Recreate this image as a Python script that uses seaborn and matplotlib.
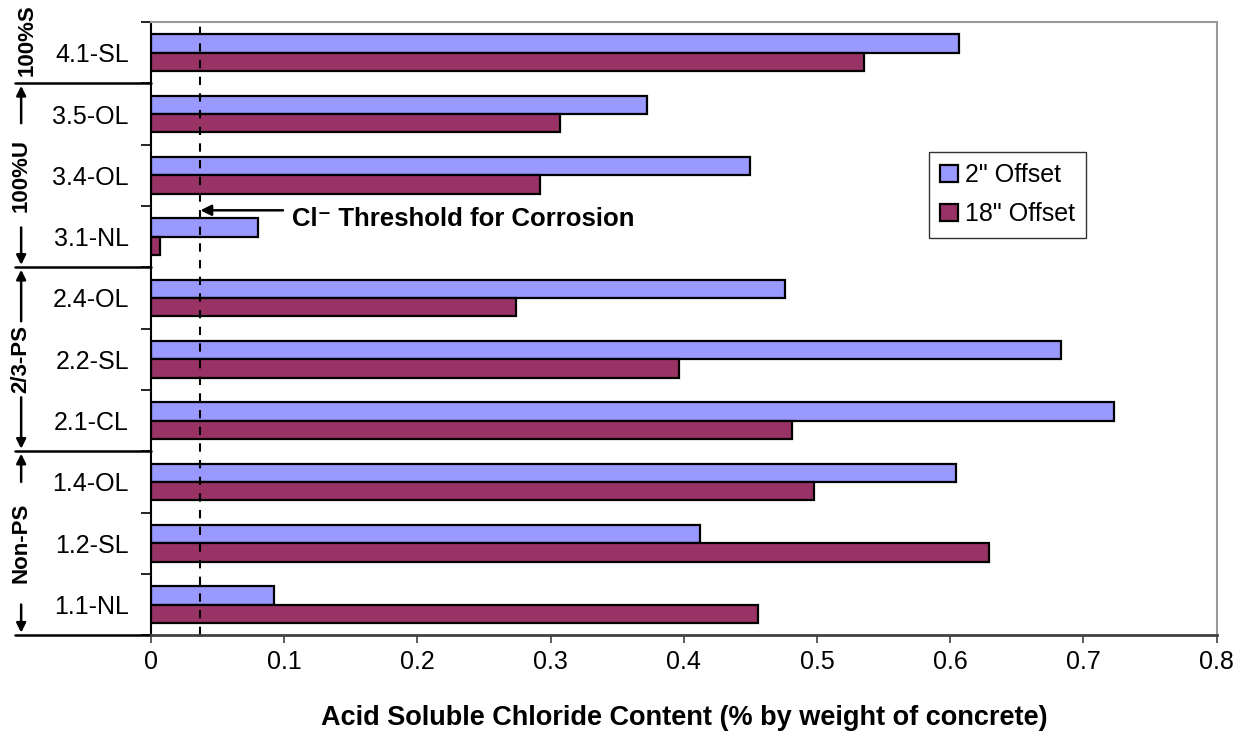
import pandas as pd
import matplotlib.pyplot as plt
import seaborn as sns

# Specimen labels, top to bottom
labels = ["4.1-SL", "3.5-OL", "3.4-OL", "3.1-NL", "2.4-OL",
          "2.2-SL", "2.1-CL", "1.4-OL", "1.2-SL", "1.1-NL"]
offset_2in = [0.607, 0.372, 0.450, 0.080, 0.476, 0.683, 0.723, 0.604, 0.412, 0.092]
offset_18in = [0.535, 0.307, 0.292, 0.007, 0.274, 0.396, 0.481, 0.498, 0.629, 0.456]
series_names = ['2" Offset', '18" Offset']
threshold = 0.037

# Specimen groups (first and last label in each)
group_names = ["100%S", "100%U", "2/3-PS", "Non-PS"]
group_first = ["4.1-SL", "3.5-OL", "2.4-OL", "1.4-OL"]
group_last = ["4.1-SL", "3.1-NL", "2.1-CL", "1.1-NL"]

df = pd.DataFrame({
    "label": labels * 2,
    "value": offset_2in + offset_18in,
    "offset": [series_names[0]] * len(labels) + [series_names[1]] * len(labels),
})

sns.set_style("white")
plt.rcParams["font.family"] = ["Liberation Sans", "DejaVu Sans"]
plt.rcParams.update({"text.color": "black", "axes.labelcolor": "black",
                     "xtick.color": "black", "ytick.color": "black"})

fig = plt.figure(figsize=(12.49, 7.36), dpi=100)
ax = fig.add_axes([0.121, 0.137, 0.853, 0.833])

sns.barplot(data=df, x="value", y="label", hue="offset", orient="h",
            palette=["#9999FF", "#993366"], saturation=1, edgecolor="black",
            linewidth=1.6, width=0.6, order=labels, ax=ax)

ax.set_xlim(0, 0.8)
ax.set_ylim(len(labels) - 0.5, -0.5)
ax.set_xticks([i / 10 for i in range(9)])
ax.set_xticklabels(["0"] + [f"{i / 10:.1f}" for i in range(1, 9)])
ax.tick_params(axis="x", direction="out", length=6, width=1.2, color="#404040",
               labelsize=18, pad=5, bottom=True)
ax.tick_params(axis="y", which="major", length=0, labelsize=18, pad=16)
ax.set_yticks([i - 0.5 for i in range(len(labels) + 1)], minor=True)
ax.tick_params(axis="y", which="minor", direction="out", length=7, width=1.2, left=True)
ax.set_ylabel("")
ax.set_xlabel("Acid Soluble Chloride Content (% by weight of concrete)",
              fontsize=19.5, fontweight="bold", labelpad=22)

for side in ["top", "right"]:
    ax.spines[side].set_color("#999999")
    ax.spines[side].set_linewidth(1.5)
ax.spines["left"].set_color("black")
ax.spines["left"].set_linewidth(1.5)
ax.spines["bottom"].set_color("#404040")
ax.spines["bottom"].set_linewidth(2)

# Threshold line and note
ax.axvline(threshold, color="black", linestyle=(0, (4, 4)), linewidth=1.5)
ax.annotate("", xy=(threshold, 2.57), xytext=(0.099, 2.57),
            arrowprops=dict(arrowstyle="-|>", color="black", lw=1.8,
                            mutation_scale=16, shrinkA=0, shrinkB=0))
ax.text(0.106, 2.72, "Cl\u207b Threshold for Corrosion", fontsize=18.5,
        fontweight="bold", va="center", ha="left")

# Legend
ax.legend(loc="upper left", bbox_to_anchor=(0.730, 0.788), borderaxespad=0,
          fontsize=18, frameon=True, fancybox=False, edgecolor="black",
          handlelength=0.7, handleheight=0.7, handletextpad=0.3,
          labelspacing=0.6, borderpad=0.45)
ax.get_legend().get_frame().set_linewidth(1.0)

# Group brackets on the left
trans = ax.get_yaxis_transform()
line_x = -0.128
arrow_x = -0.122
arrow_gap = [0, 0.85, 0.62, 1.0]
for name, first, last, gap in zip(group_names, group_first, group_last, arrow_gap):
    top = labels.index(first) - 0.5
    bottom = labels.index(last) + 0.5
    center = (top + bottom) / 2
    ax.plot([line_x, 0], [bottom, bottom], transform=trans, color="black",
            lw=1.8, clip_on=False)
    if gap > 0:
        ax.text(arrow_x, center, name, transform=trans, rotation=90, fontsize=16,
                fontweight="bold", ha="center", va="center")
        ax.annotate("", xy=(arrow_x, top + 0.04), xycoords=trans,
                    xytext=(arrow_x, center - gap), textcoords=trans,
                    arrowprops=dict(arrowstyle="-|>", color="black", lw=1.8,
                                    mutation_scale=14, shrinkA=0, shrinkB=0))
        ax.annotate("", xy=(arrow_x, bottom - 0.04), xycoords=trans,
                    xytext=(arrow_x, center + gap), textcoords=trans,
                    arrowprops=dict(arrowstyle="-|>", color="black", lw=1.8,
                                    mutation_scale=14, shrinkA=0, shrinkB=0))
    else:
        # single-specimen group: label only, nudged up to clear the divider
        ax.text(arrow_x + 0.006, center - 0.2, name, transform=trans, rotation=90,
                fontsize=16, fontweight="bold", ha="center", va="center")

plt.savefig("out.png", dpi=100)
plt.close()
